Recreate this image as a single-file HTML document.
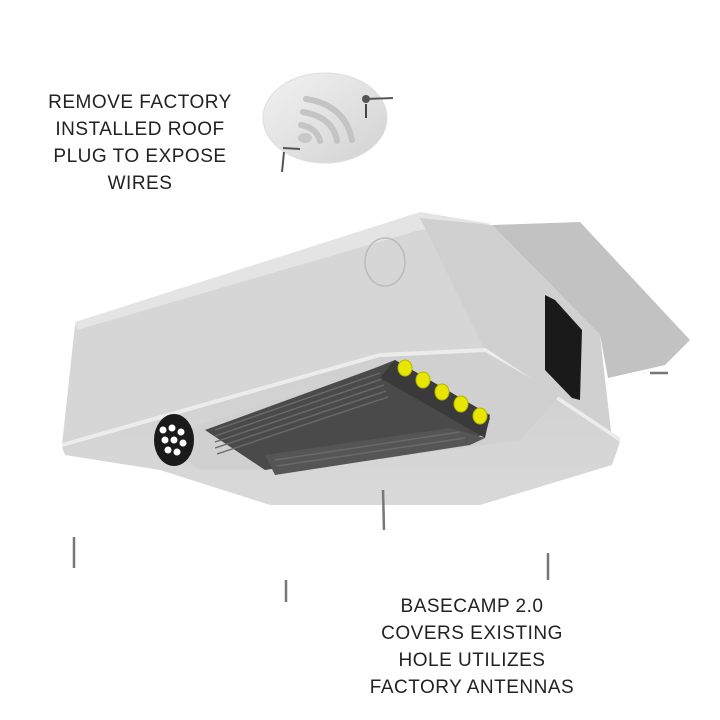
<!DOCTYPE html>
<html><head><meta charset="utf-8"><style>
html,body{margin:0;padding:0;background:#fff;width:720px;height:720px;overflow:hidden}
.t{position:absolute;font-family:"Liberation Sans",sans-serif;font-size:19px;color:#222;text-align:center;line-height:27px;letter-spacing:0.5px}
</style></head><body>
<svg width="720" height="720" style="position:absolute;left:0;top:0">
<defs>
<linearGradient id="pg" x1="0" y1="0" x2="1" y2="1"><stop offset="0" stop-color="#f2f2f2"/><stop offset="1" stop-color="#d2d2d2"/></linearGradient>
<linearGradient id="fr" x1="0" y1="0" x2="0" y2="1"><stop offset="0" stop-color="#cfcfcf"/><stop offset="1" stop-color="#d9d9d9"/></linearGradient>
</defs>
<!-- roof plug -->
<ellipse cx="325" cy="118" rx="62" ry="45" fill="url(#pg)" stroke="#ddd"/>
<g fill="none" stroke="#c4c4c4" stroke-width="6" stroke-linecap="round">
<path d="M306 99 Q345 105 352 140"/><path d="M303 112 Q333 117 337 141"/><path d="M301 125 Q317 128 320 141"/>
</g>
<ellipse cx="305" cy="138" rx="7" ry="5" fill="#c8c8c8"/>
<circle cx="366" cy="99" r="4" fill="#555"/><line x1="366" y1="99" x2="393" y2="98" stroke="#555" stroke-width="2"/>
<line x1="366" y1="104" x2="366" y2="118" stroke="#444" stroke-width="2"/>
<line x1="283" y1="148" x2="300" y2="149" stroke="#555" stroke-width="2"/>
<line x1="284" y1="152" x2="282" y2="172" stroke="#555" stroke-width="2"/>
<!-- right wing -->
<polygon points="492,225 580,222 690,340 665,365 608,378 600,335" fill="#c2c2c2"/>
<!-- top long face -->
<polygon points="75,325 420,214 492,226 485,350 380,355 62,445" fill="#d6d6d6"/>
<polygon points="75,322 420,212 492,224 420,230 77,330" fill="#e4e4e4"/>
<!-- side face -->
<polygon points="420,218 492,225 600,335 612,440 485,350" fill="#d0d0d0"/>
<!-- edge line -->
<polyline points="62,445 380,355 485,350 620,440" fill="none" stroke="#ececec" stroke-width="4"/>
<!-- underside -->
<polygon points="62,447 380,357 485,352 620,442 612,465 480,505 270,505 160,470 65,455" fill="url(#fr)"/>
<polygon points="155,440 365,370 485,352 560,395 520,440 300,470 200,470" fill="#d0d0d0"/>
<!-- knock-out circle -->
<ellipse cx="385" cy="262" rx="20" ry="24" fill="none" stroke="#bbb" stroke-width="1.5"/>
<!-- right grille -->
<polygon points="545,295 555,300 582,330 580,400 572,398 545,370" fill="#1a1a1a"/>
<!-- electronics module -->
<polygon points="205,430 375,368 395,360 490,418 485,435 395,450 265,470" fill="#4a4a4a"/>
<polygon points="265,455 450,428 485,438 470,445 275,475" fill="#555"/>
<g stroke="#6a6a6a" stroke-width="1.4">
<line x1="215" y1="430" x2="380" y2="373"/><line x1="215" y1="436" x2="382" y2="379"/><line x1="215" y1="442" x2="384" y2="385"/><line x1="215" y1="448" x2="386" y2="391"/><line x1="217" y1="454" x2="388" y2="397"/>
<line x1="275" y1="460" x2="460" y2="432"/><line x1="277" y1="466" x2="465" y2="438"/>
</g>
<polygon points="395,360 490,415 485,438 380,378" fill="#3a3a3a"/>
<g fill="#e6e600" stroke="#b5b500">
<ellipse cx="405" cy="368" rx="7" ry="8"/><ellipse cx="423" cy="380" rx="7" ry="8"/><ellipse cx="442" cy="392" rx="7" ry="8"/><ellipse cx="461" cy="404" rx="7" ry="8"/><ellipse cx="480" cy="416" rx="7" ry="8"/>
</g>
<!-- left grille -->
<ellipse cx="174" cy="440" rx="20" ry="26" fill="#1a1a1a"/>
<g fill="#fff"><circle cx="163" cy="430" r="3.5"/><circle cx="172" cy="428" r="3.5"/><circle cx="181" cy="432" r="3.5"/><circle cx="165" cy="440" r="3.5"/><circle cx="174" cy="440" r="3.5"/><circle cx="183" cy="443" r="3.5"/><circle cx="168" cy="450" r="3.5"/><circle cx="177" cy="452" r="3.5"/></g>
<!-- screws -->
<g stroke="#777" stroke-width="2.5">
<line x1="383" y1="490" x2="384" y2="530"/><line x1="74" y1="537" x2="74" y2="568"/><line x1="286" y1="580" x2="286" y2="602"/><line x1="548" y1="553" x2="548" y2="580"/><line x1="650" y1="373" x2="668" y2="373"/>
</g>
</svg>
<div class="t" style="left:30px;top:89px;width:220px">REMOVE FACTORY<br>INSTALLED ROOF<br>PLUG TO EXPOSE<br>WIRES</div>
<div class="t" style="left:352px;top:593px;width:240px">BASECAMP 2.0<br>COVERS EXISTING<br>HOLE UTILIZES<br>FACTORY ANTENNAS</div>
</body></html>
